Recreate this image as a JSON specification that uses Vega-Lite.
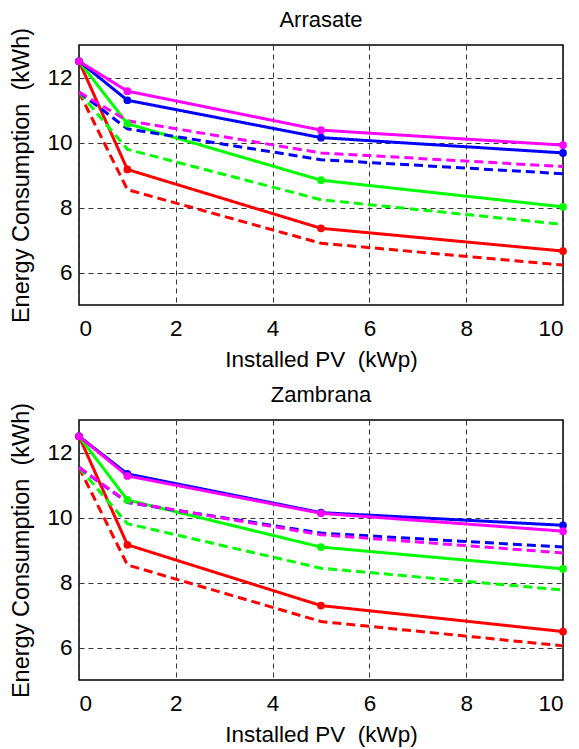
{
  "$schema": "https://vega.github.io/schema/vega-lite/v6.json",
  "background": "white",
  "padding": {"left": 9, "top": 8, "right": 5, "bottom": 5},
  "bounds": "flush",
  "spacing": 115,
  "config": {
    "font": "Liberation Sans",
    "view": {"stroke": "black", "strokeWidth": 1.5},
    "axis": {
      "labelFontSize": 22.5, "labelColor": "black", "labelFont": "Liberation Sans",
      "titleFontSize": 22.5, "titleColor": "black", "titleFontWeight": "normal", "titleFont": "Liberation Sans",
      "domain": false, "ticks": false,
      "grid": true, "gridColor": "#333", "gridDash": [5, 4], "gridWidth": 1, "gridOpacity": 1
    },
    "axisX": {"labelPadding": 12, "titlePadding": 9},
    "axisY": {"labelPadding": 7, "titlePadding": 13, "titleFontSize": 23.5},
    "title": {"fontSize": 22, "fontWeight": "normal", "color": "black", "font": "Liberation Sans", "offset": -5}
  },
  "data": {
    "values": [
      {"site": "Arrasate", "series": "S1", "kind": "solid", "pv": 0, "e": 12.5},
      {"site": "Arrasate", "series": "S1", "kind": "solid", "pv": 1, "e": 9.17},
      {"site": "Arrasate", "series": "S1", "kind": "solid", "pv": 5, "e": 7.36},
      {"site": "Arrasate", "series": "S1", "kind": "solid", "pv": 10, "e": 6.66},
      {"site": "Arrasate", "series": "S1", "kind": "dashed", "pv": 0, "e": 11.55},
      {"site": "Arrasate", "series": "S1", "kind": "dashed", "pv": 1, "e": 8.55},
      {"site": "Arrasate", "series": "S1", "kind": "dashed", "pv": 5, "e": 6.9},
      {"site": "Arrasate", "series": "S1", "kind": "dashed", "pv": 10, "e": 6.23},
      {"site": "Arrasate", "series": "S2", "kind": "solid", "pv": 0, "e": 12.5},
      {"site": "Arrasate", "series": "S2", "kind": "solid", "pv": 1, "e": 10.58},
      {"site": "Arrasate", "series": "S2", "kind": "solid", "pv": 5, "e": 8.84},
      {"site": "Arrasate", "series": "S2", "kind": "solid", "pv": 10, "e": 8.02},
      {"site": "Arrasate", "series": "S2", "kind": "dashed", "pv": 0, "e": 11.55},
      {"site": "Arrasate", "series": "S2", "kind": "dashed", "pv": 1, "e": 9.79},
      {"site": "Arrasate", "series": "S2", "kind": "dashed", "pv": 5, "e": 8.24},
      {"site": "Arrasate", "series": "S2", "kind": "dashed", "pv": 10, "e": 7.48},
      {"site": "Arrasate", "series": "S3", "kind": "solid", "pv": 0, "e": 12.5},
      {"site": "Arrasate", "series": "S3", "kind": "solid", "pv": 1, "e": 11.3},
      {"site": "Arrasate", "series": "S3", "kind": "solid", "pv": 5, "e": 10.15},
      {"site": "Arrasate", "series": "S3", "kind": "solid", "pv": 10, "e": 9.68},
      {"site": "Arrasate", "series": "S3", "kind": "dashed", "pv": 0, "e": 11.55},
      {"site": "Arrasate", "series": "S3", "kind": "dashed", "pv": 1, "e": 10.42},
      {"site": "Arrasate", "series": "S3", "kind": "dashed", "pv": 5, "e": 9.47},
      {"site": "Arrasate", "series": "S3", "kind": "dashed", "pv": 10, "e": 9.04},
      {"site": "Arrasate", "series": "S4", "kind": "solid", "pv": 0, "e": 12.5},
      {"site": "Arrasate", "series": "S4", "kind": "solid", "pv": 1, "e": 11.58},
      {"site": "Arrasate", "series": "S4", "kind": "solid", "pv": 5, "e": 10.38},
      {"site": "Arrasate", "series": "S4", "kind": "solid", "pv": 10, "e": 9.92},
      {"site": "Arrasate", "series": "S4", "kind": "dashed", "pv": 0, "e": 11.55},
      {"site": "Arrasate", "series": "S4", "kind": "dashed", "pv": 1, "e": 10.67},
      {"site": "Arrasate", "series": "S4", "kind": "dashed", "pv": 5, "e": 9.68},
      {"site": "Arrasate", "series": "S4", "kind": "dashed", "pv": 10, "e": 9.26},
      {"site": "Zambrana", "series": "S1", "kind": "solid", "pv": 0, "e": 12.5},
      {"site": "Zambrana", "series": "S1", "kind": "solid", "pv": 1, "e": 9.16},
      {"site": "Zambrana", "series": "S1", "kind": "solid", "pv": 5, "e": 7.29},
      {"site": "Zambrana", "series": "S1", "kind": "solid", "pv": 10, "e": 6.49},
      {"site": "Zambrana", "series": "S1", "kind": "dashed", "pv": 0, "e": 11.54},
      {"site": "Zambrana", "series": "S1", "kind": "dashed", "pv": 1, "e": 8.54},
      {"site": "Zambrana", "series": "S1", "kind": "dashed", "pv": 5, "e": 6.8},
      {"site": "Zambrana", "series": "S1", "kind": "dashed", "pv": 10, "e": 6.05},
      {"site": "Zambrana", "series": "S2", "kind": "solid", "pv": 0, "e": 12.5},
      {"site": "Zambrana", "series": "S2", "kind": "solid", "pv": 1, "e": 10.54},
      {"site": "Zambrana", "series": "S2", "kind": "solid", "pv": 5, "e": 9.09},
      {"site": "Zambrana", "series": "S2", "kind": "solid", "pv": 10, "e": 8.42},
      {"site": "Zambrana", "series": "S2", "kind": "dashed", "pv": 0, "e": 11.54},
      {"site": "Zambrana", "series": "S2", "kind": "dashed", "pv": 1, "e": 9.81},
      {"site": "Zambrana", "series": "S2", "kind": "dashed", "pv": 5, "e": 8.44},
      {"site": "Zambrana", "series": "S2", "kind": "dashed", "pv": 10, "e": 7.77},
      {"site": "Zambrana", "series": "S3", "kind": "solid", "pv": 0, "e": 12.5},
      {"site": "Zambrana", "series": "S3", "kind": "solid", "pv": 1, "e": 11.34},
      {"site": "Zambrana", "series": "S3", "kind": "solid", "pv": 5, "e": 10.15},
      {"site": "Zambrana", "series": "S3", "kind": "solid", "pv": 10, "e": 9.76},
      {"site": "Zambrana", "series": "S3", "kind": "dashed", "pv": 0, "e": 11.54},
      {"site": "Zambrana", "series": "S3", "kind": "dashed", "pv": 1, "e": 10.46},
      {"site": "Zambrana", "series": "S3", "kind": "dashed", "pv": 5, "e": 9.52},
      {"site": "Zambrana", "series": "S3", "kind": "dashed", "pv": 10, "e": 9.09},
      {"site": "Zambrana", "series": "S4", "kind": "solid", "pv": 0, "e": 12.5},
      {"site": "Zambrana", "series": "S4", "kind": "solid", "pv": 1, "e": 11.28},
      {"site": "Zambrana", "series": "S4", "kind": "solid", "pv": 5, "e": 10.13},
      {"site": "Zambrana", "series": "S4", "kind": "solid", "pv": 10, "e": 9.58},
      {"site": "Zambrana", "series": "S4", "kind": "dashed", "pv": 0, "e": 11.54},
      {"site": "Zambrana", "series": "S4", "kind": "dashed", "pv": 1, "e": 10.48},
      {"site": "Zambrana", "series": "S4", "kind": "dashed", "pv": 5, "e": 9.47},
      {"site": "Zambrana", "series": "S4", "kind": "dashed", "pv": 10, "e": 8.91}
    ]
  },
  "vconcat": [
    {
      "width": 484, "height": 260,
      "title": {"text": "Arrasate"},
      "transform": [{"filter": "datum.site === 'Arrasate'"}],
      "encoding": {
        "x": {"field": "pv", "type": "quantitative", "scale": {"domain": [0, 10], "nice": false}, "axis": {"values": [0, 2, 4, 6, 8, 10], "title": "Installed PV\u00a0\u00a0(kWp)"}},
        "y": {"field": "e", "type": "quantitative", "scale": {"domain": [5, 13], "nice": false, "zero": false}, "axis": {"values": [6, 8, 10, 12], "title": "Energy Consumption\u00a0\u00a0(kWh)"}},
        "color": {"field": "series", "type": "nominal", "scale": {"domain": ["S1", "S2", "S3", "S4"], "range": ["#ff0000", "#00ff00", "#0000ff", "#ff00ff"]}, "legend": null}
      },
      "layer": [
        {"mark": {"type": "line", "strokeWidth": 3, "clip": false},
         "encoding": {"strokeDash": {"field": "kind", "type": "nominal", "scale": {"domain": ["solid", "dashed"], "range": [[1, 0], [9, 5]]}, "legend": null}}},
        {"transform": [{"filter": "datum.kind === 'solid'"}],
         "mark": {"type": "circle", "size": 60, "opacity": 1}}
      ]
    },
    {
      "width": 484, "height": 260,
      "title": {"text": "Zambrana"},
      "transform": [{"filter": "datum.site === 'Zambrana'"}],
      "encoding": {
        "x": {"field": "pv", "type": "quantitative", "scale": {"domain": [0, 10], "nice": false}, "axis": {"values": [0, 2, 4, 6, 8, 10], "title": "Installed PV\u00a0\u00a0(kWp)"}},
        "y": {"field": "e", "type": "quantitative", "scale": {"domain": [5, 13], "nice": false, "zero": false}, "axis": {"values": [6, 8, 10, 12], "title": "Energy Consumption\u00a0\u00a0(kWh)"}},
        "color": {"field": "series", "type": "nominal", "scale": {"domain": ["S1", "S2", "S3", "S4"], "range": ["#ff0000", "#00ff00", "#0000ff", "#ff00ff"]}, "legend": null}
      },
      "layer": [
        {"mark": {"type": "line", "strokeWidth": 3, "clip": false},
         "encoding": {"strokeDash": {"field": "kind", "type": "nominal", "scale": {"domain": ["solid", "dashed"], "range": [[1, 0], [9, 5]]}, "legend": null}}},
        {"transform": [{"filter": "datum.kind === 'solid'"}],
         "mark": {"type": "circle", "size": 60, "opacity": 1}}
      ]
    }
  ]
}
